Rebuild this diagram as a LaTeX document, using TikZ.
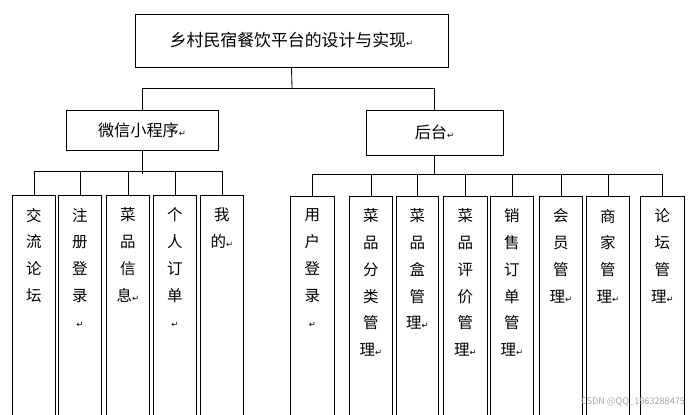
\documentclass[tikz,border=0pt]{standalone}
\usepackage{fontspec}
\setmainfont{Noto Sans CJK SC}
\newfontfamily\mkfont{DejaVu Sans}
\newcommand{\parmark}{{\mkfont\fontsize{6}{6}\selectfont ↵}}
\begin{document}
\begin{tikzpicture}[x=0.025cm,y=-0.025cm,
  box/.style={draw, line width=0.6pt, inner sep=0pt},
  leaf/.style={draw, line width=0.6pt, anchor=north west, inner sep=0pt},
  leaftext/.style={anchor=north, align=center, font=\fontsize{11}{19}\selectfont},
  link/.style={line width=0.6pt}
]
\useasboundingbox (0,0) rectangle (696,414);
% root and second level
\node[box, minimum width=313*0.025cm, minimum height=53*0.025cm, font=\fontsize{12}{14}\selectfont] (root) at (291.5,40.5) {乡村民宿餐饮平台的设计与实现\parmark};
\node[box, minimum width=152*0.025cm, minimum height=40*0.025cm, font=\fontsize{11.5}{14}\selectfont] (wx) at (142,130) {微信小程序\parmark};
\node[box, minimum width=137*0.025cm, minimum height=45*0.025cm, font=\fontsize{11.5}{14}\selectfont] (bk) at (434.5,132.5) {后台\parmark};
\coordinate (j1) at (292,88);
\draw[link] (root.south) -- (j1);
\draw[link] (j1) -| (wx.north);
\draw[link] (j1) -| (bk.north);
% leaves
\foreach \n/\x/\w/\t in {
  a/12/43/交\\流\\论\\坛,
  b/58/43/注\\册\\登\\录\\\parmark,
  c/106/43/菜\\品\\信\\息\parmark,
  d/153/43/个\\人\\订\\单\\\parmark,
  e/200/43/我\\的\parmark}{
  \node[leaf, minimum width=\w*0.025cm, minimum height=235*0.025cm] (\n) at (\x,195) {};
  \node[leaftext] (\n t) at ([yshift=-0.2cm]\n.north) {\t};
  \draw[link] ([yshift=-0.525cm]wx.south) -| (\n.north);
}
\draw[link] (wx.south) -- ++(0,-0.6cm);
\foreach \n/\x/\w/\t in {
  f/290/44/用\\户\\登\\录\\\parmark,
  g/349/43/菜\\品\\分\\类\\管\\理\parmark,
  h/396/42/菜\\品\\盒\\管\\理\parmark,
  i/443/44/菜\\品\\评\\价\\管\\理\parmark,
  j/490/43/销\\售\\订\\单\\管\\理\parmark,
  k/539/43/会\\员\\管\\理\parmark,
  l/586/43/商\\家\\管\\理\parmark,
  m/640/44/论\\坛\\管\\理\parmark}{
  \node[leaf, minimum width=\w*0.025cm, minimum height=234*0.025cm] (\n) at (\x,196) {};
  \node[leaftext] (\n t) at ([yshift=-0.2cm]\n.north) {\t};
  \draw[link] ([yshift=-0.475cm]bk.south) -| (\n.north);
}
\draw[link] (bk.south) -- ++(0,-0.5cm);
\node[text=gray!70, font=\fontsize{6.5}{7}\selectfont, anchor=east] (mark) at (690,402) {CSDN @QQ\_1963288475};
\end{tikzpicture}
\end{document}
